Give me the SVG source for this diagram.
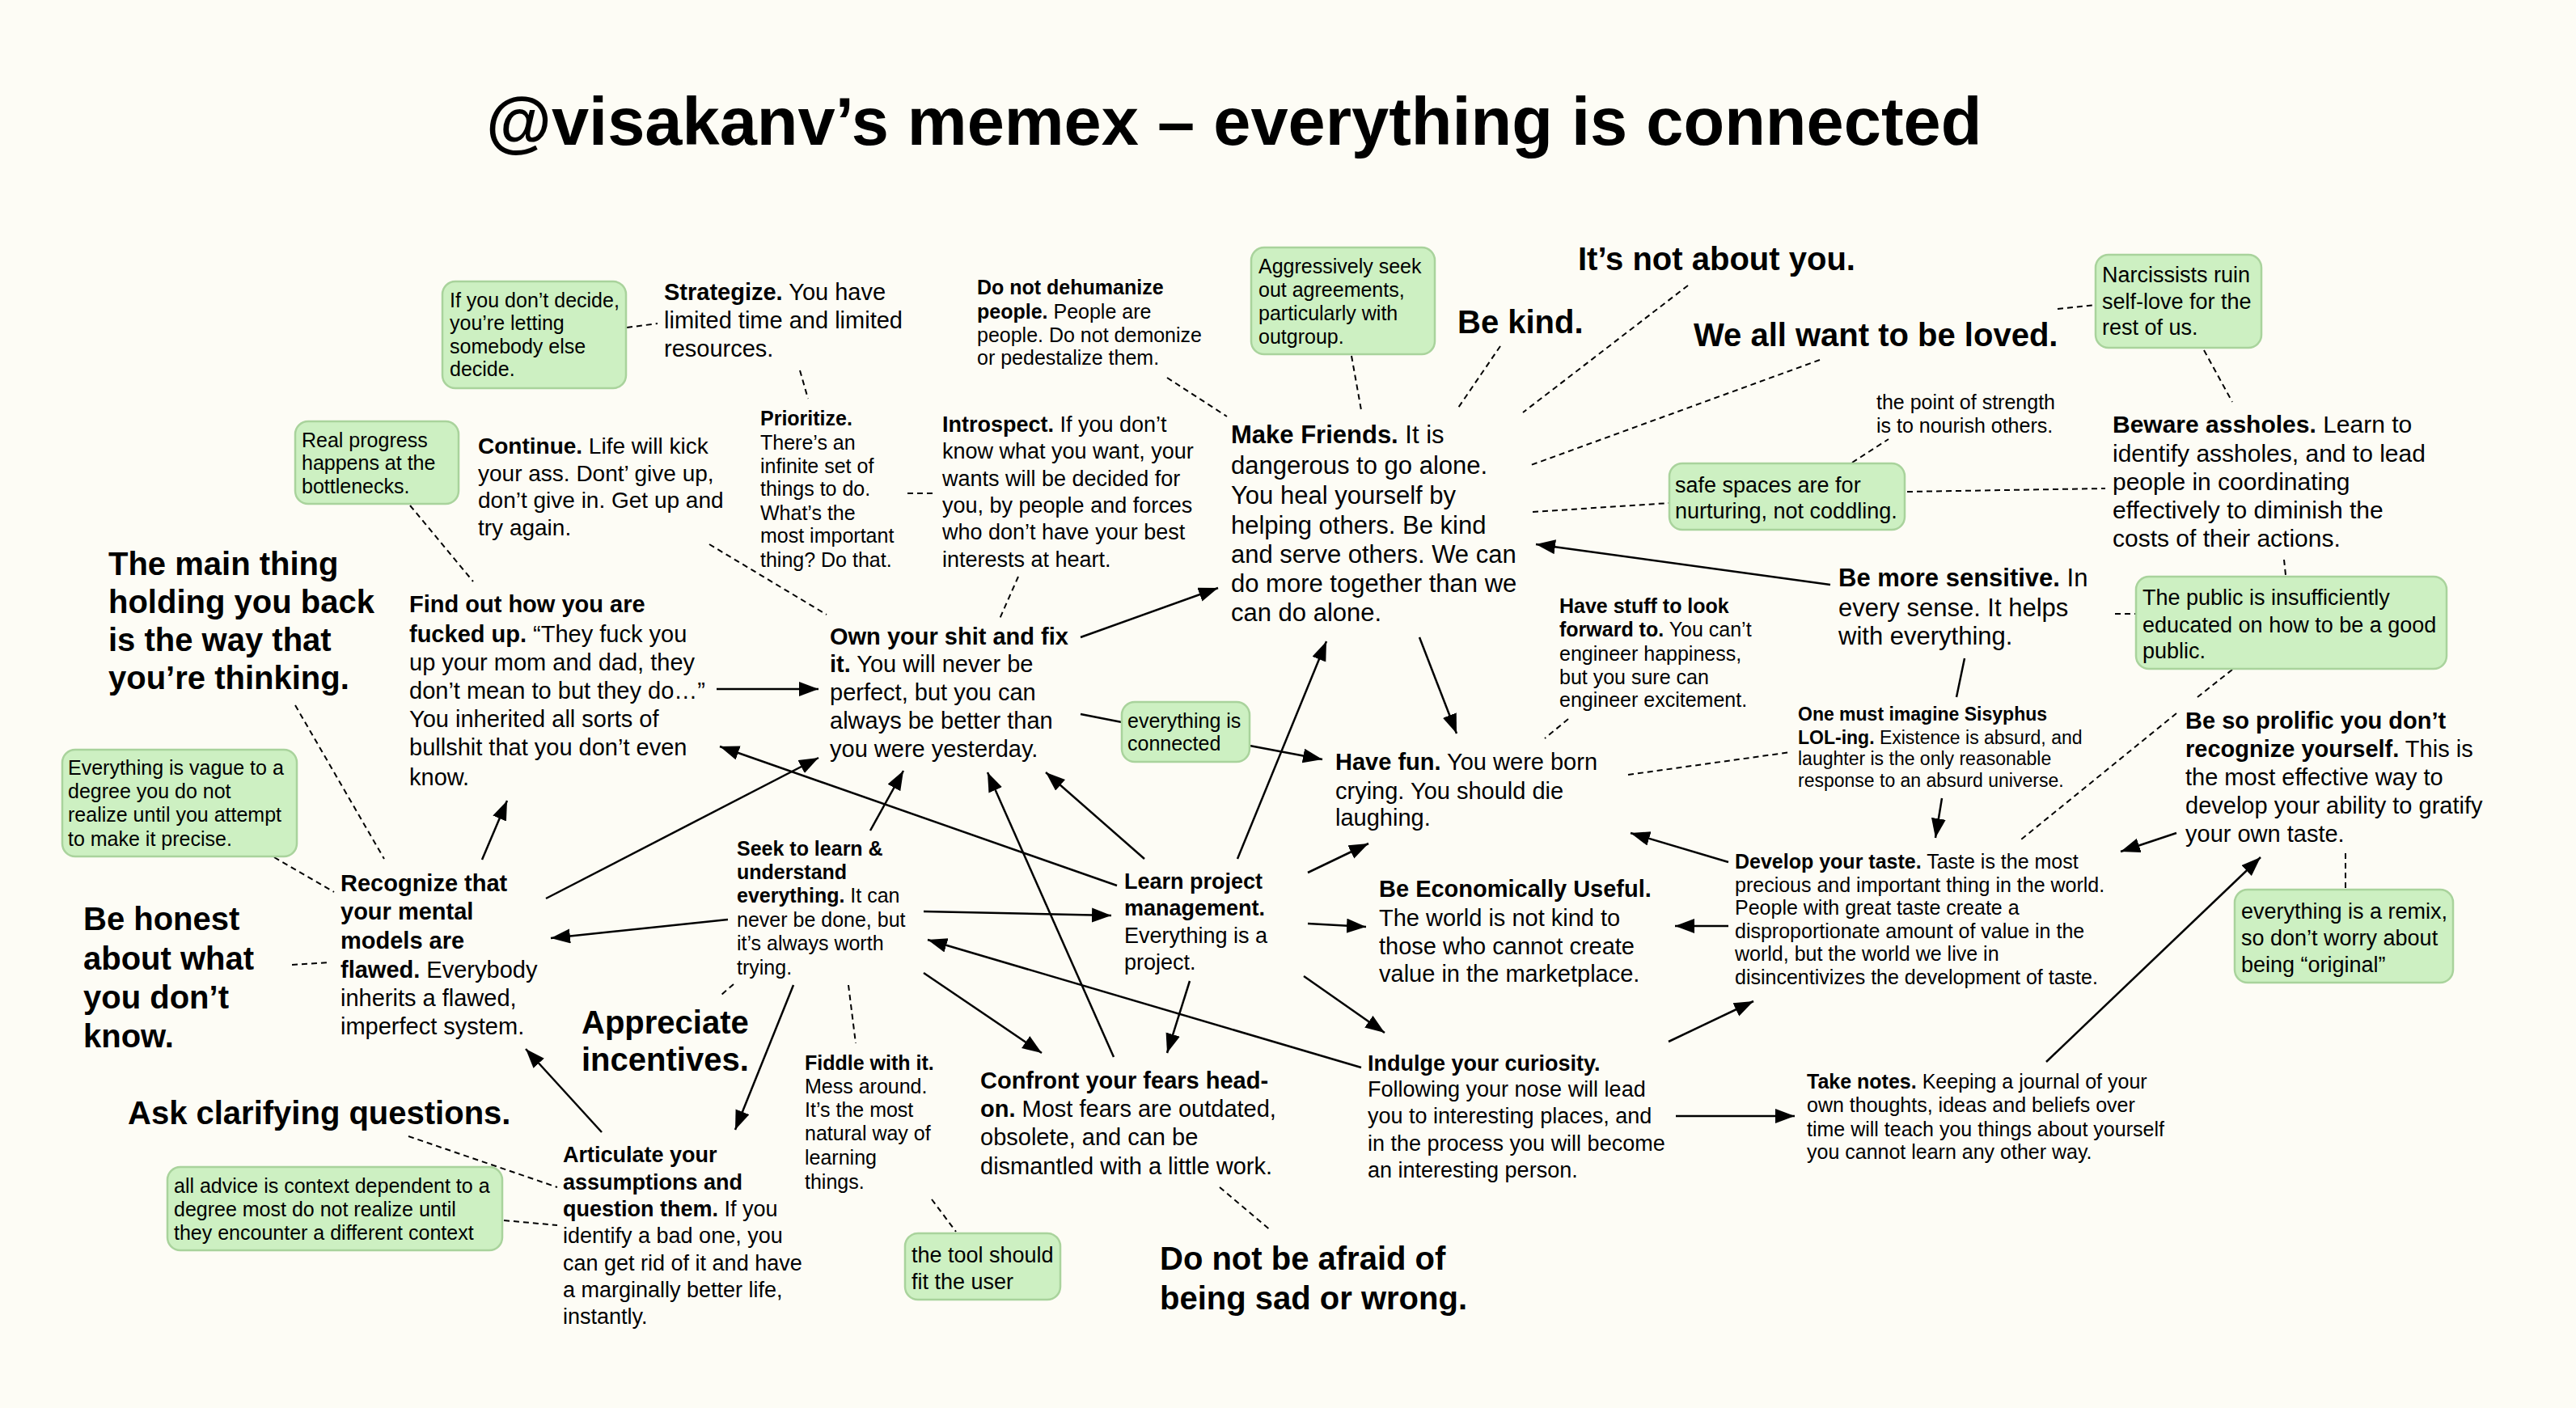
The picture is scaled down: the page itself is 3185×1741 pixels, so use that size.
<svg xmlns="http://www.w3.org/2000/svg" width="3185" height="1741" viewBox="0 0 3185 1741">
<style>
text{font-family:"Liberation Sans",Arial,Helvetica,sans-serif;fill:#000}
.b{font-weight:bold}
.h{font-weight:bold;font-size:40px}
.note{fill:#cdf0c2;stroke:#a9d39c;stroke-width:2.5}
.a{stroke:#000;stroke-width:2.5;fill:none;marker-end:url(#ah)}
.l{stroke:#000;stroke-width:2.5;fill:none}
.d{stroke:#000;stroke-width:2;fill:none;stroke-dasharray:7 5}
</style>
<defs>
<marker id="ah" markerUnits="userSpaceOnUse" markerWidth="26" markerHeight="20" refX="24" refY="9" orient="auto">
<path d="M0,0 L24,9 L0,18 z" fill="#000"/>
</marker>
</defs>
<rect width="3185" height="1741" fill="#fdfcf5"/>
<text id="title" x="601" y="179" font-size="83" font-weight="bold">@visakanv’s memex – everything is connected</text>

<g id="connectors">
<!-- dashed -->
<line class="d" x1="775" y1="405" x2="813" y2="400"/>
<line class="d" x1="989" y1="458" x2="999" y2="493"/>
<line class="d" x1="1122" y1="610" x2="1155" y2="610"/>
<line class="d" x1="877" y1="673" x2="1022" y2="760"/>
<line class="d" x1="1259" y1="713" x2="1236" y2="765"/>
<line class="d" x1="507" y1="625" x2="585" y2="719"/>
<line class="d" x1="1443" y1="467" x2="1517" y2="515"/>
<line class="d" x1="1671" y1="440" x2="1683" y2="507"/>
<line class="d" x1="1855" y1="428" x2="1801" y2="507"/>
<line class="d" x1="2087" y1="353" x2="1883" y2="510"/>
<line class="d" x1="2250" y1="445" x2="1893" y2="575"/>
<line class="d" x1="1895" y1="633" x2="2064" y2="622"/>
<line class="d" x1="2290" y1="572" x2="2335" y2="543"/>
<line class="d" x1="2358" y1="608" x2="2603" y2="604"/>
<line class="d" x1="2544" y1="382" x2="2591" y2="377"/>
<line class="d" x1="2725" y1="433" x2="2760" y2="497"/>
<line class="d" x1="2824" y1="692" x2="2826" y2="711"/>
<line class="d" x1="2615" y1="759" x2="2640" y2="759"/>
<line class="d" x1="2760" y1="828" x2="2717" y2="862"/>
<line class="d" x1="2691" y1="882" x2="2499" y2="1038"/>
<line class="d" x1="1939" y1="889" x2="1910" y2="913"/>
<line class="d" x1="2013" y1="958" x2="2214" y2="930"/>
<line class="d" x1="2900" y1="1055" x2="2900" y2="1099"/>
<line class="d" x1="365" y1="872" x2="475" y2="1062"/>
<line class="d" x1="339" y1="1060" x2="413" y2="1103"/>
<line class="d" x1="361" y1="1193" x2="408" y2="1190"/>
<line class="d" x1="907" y1="1217" x2="892" y2="1230"/>
<line class="d" x1="1049" y1="1218" x2="1058" y2="1290"/>
<line class="d" x1="505" y1="1405" x2="689" y2="1468"/>
<line class="d" x1="623" y1="1509" x2="689" y2="1515"/>
<line class="d" x1="1152" y1="1483" x2="1182" y2="1523"/>
<line class="d" x1="1508" y1="1468" x2="1572" y2="1522"/>
<!-- plain solid -->
<line class="l" x1="1336" y1="883" x2="1387" y2="893"/>
<line class="l" x1="2429" y1="814" x2="2419" y2="862"/>
<!-- arrows -->
<line class="a" x1="1336" y1="788" x2="1506" y2="727"/>
<line class="a" x1="2263" y1="723" x2="1899" y2="673"/>
<line class="a" x1="1755" y1="788" x2="1801" y2="907"/>
<line class="a" x1="1545" y1="922" x2="1635" y2="939"/>
<line class="a" x1="2137" y1="1066" x2="2016" y2="1030"/>
<line class="a" x1="2137" y1="1145" x2="2071" y2="1145"/>
<line class="a" x1="2401" y1="987" x2="2393" y2="1036"/>
<line class="a" x1="2691" y1="1030" x2="2622" y2="1053"/>
<line class="a" x1="2530" y1="1313" x2="2795" y2="1060"/>
<line class="a" x1="2072" y1="1380" x2="2219" y2="1380"/>
<line class="a" x1="2063" y1="1288" x2="2168" y2="1238"/>
<line class="a" x1="1617" y1="1079" x2="1692" y2="1043"/>
<line class="a" x1="1617" y1="1142" x2="1689" y2="1146"/>
<line class="a" x1="1612" y1="1207" x2="1712" y2="1277"/>
<line class="a" x1="1471" y1="1213" x2="1443" y2="1302"/>
<line class="a" x1="1142" y1="1203" x2="1288" y2="1302"/>
<line class="a" x1="981" y1="1218" x2="909" y2="1397"/>
<line class="a" x1="1142" y1="1127" x2="1374" y2="1132"/>
<line class="a" x1="1076" y1="1027" x2="1117" y2="953"/>
<line class="a" x1="1415" y1="1062" x2="1293" y2="955"/>
<line class="a" x1="596" y1="1063" x2="627" y2="990"/>
<line class="a" x1="886" y1="852" x2="1012" y2="852"/>
<line class="a" x1="744" y1="1400" x2="650" y2="1297"/>
<line class="a" x1="1530" y1="1062" x2="1640" y2="793"/>
<line class="a" x1="675" y1="1111" x2="1012" y2="937"/>
<line class="a" x1="1381" y1="1095" x2="890" y2="923"/>
<line class="a" x1="900" y1="1137" x2="681" y2="1160"/>
<line class="a" x1="1683" y1="1320" x2="1147" y2="1162"/>
<line class="a" x1="1377" y1="1307" x2="1221" y2="955"/>
</g>

<g id="n-decide">
<rect class="note" x="547" y="348" width="227" height="132" rx="16"/>
<text font-size="25"><tspan x="556" y="380">If you don’t decide,</tspan><tspan x="556" y="408">you’re letting</tspan><tspan x="556" y="437">somebody else</tspan><tspan x="556" y="465">decide.</tspan></text>
</g>
<g id="n-strategize">
<text font-size="29"><tspan x="821" y="371"><tspan class="b">Strategize.</tspan> You have</tspan><tspan x="821" y="406">limited time and limited</tspan><tspan x="821" y="441">resources.</tspan></text>
</g>
<g id="n-dehumanize">
<text font-size="25"><tspan x="1208" y="364" class="b">Do not dehumanize</tspan><tspan x="1208" y="394"><tspan class="b">people.</tspan> People are</tspan><tspan x="1208" y="423">people. Do not demonize</tspan><tspan x="1208" y="451">or pedestalize them.</tspan></text>
</g>
<g id="n-aggressive">
<rect class="note" x="1547" y="306" width="227" height="132" rx="16"/>
<text font-size="25"><tspan x="1556" y="338">Aggressively seek</tspan><tspan x="1556" y="367">out agreements,</tspan><tspan x="1556" y="396">particularly with</tspan><tspan x="1556" y="425">outgroup.</tspan></text>
</g>
<g id="n-bekind"><text class="h" x="1802" y="412">Be kind.</text></g>
<g id="n-notaboutyou"><text class="h" x="1951" y="334">It’s not about you.</text></g>
<g id="n-weall"><text class="h" x="2094" y="428">We all want to be loved.</text></g>
<g id="n-narc">
<rect class="note" x="2591" y="315" width="205" height="115" rx="16"/>
<text font-size="27"><tspan x="2599" y="349">Narcissists ruin</tspan><tspan x="2599" y="382">self-love for the</tspan><tspan x="2599" y="414">rest of us.</tspan></text>
</g>
<g id="n-point">
<text font-size="25"><tspan x="2320" y="506">the point of strength</tspan><tspan x="2320" y="535">is to nourish others.</tspan></text>
</g>
<g id="n-safe">
<rect class="note" x="2064" y="573" width="291" height="82" rx="16"/>
<text font-size="27"><tspan x="2071" y="609">safe spaces are for</tspan><tspan x="2071" y="641">nurturing, not coddling.</tspan></text>
</g>
<g id="n-beware">
<text font-size="30"><tspan x="2612" y="535"><tspan class="b">Beware assholes.</tspan> Learn to</tspan><tspan x="2612" y="571">identify assholes, and to lead</tspan><tspan x="2612" y="606">people in coordinating</tspan><tspan x="2612" y="641">effectively to diminish the</tspan><tspan x="2612" y="676">costs of their actions.</tspan></text>
</g>
<g id="n-public">
<rect class="note" x="2641" y="713" width="384" height="114" rx="16"/>
<text font-size="27"><tspan x="2649" y="748">The public is insufficiently</tspan><tspan x="2649" y="782">educated on how to be a good</tspan><tspan x="2649" y="814">public.</tspan></text>
</g>
<g id="n-sensitive">
<text font-size="31"><tspan x="2273" y="725"><tspan class="b">Be more sensitive.</tspan> In</tspan><tspan x="2273" y="762">every sense. It helps</tspan><tspan x="2273" y="797">with everything.</tspan></text>
</g>
<g id="n-havestuff">
<text font-size="25"><tspan x="1928" y="758" class="b">Have stuff to look</tspan><tspan x="1928" y="787"><tspan class="b">forward to.</tspan> You can’t</tspan><tspan x="1928" y="817">engineer happiness,</tspan><tspan x="1928" y="846">but you sure can</tspan><tspan x="1928" y="874">engineer excitement.</tspan></text>
</g>
<g id="n-sisyphus">
<text font-size="23"><tspan x="2223" y="891" class="b">One must imagine Sisyphus</tspan><tspan x="2223" y="920"><tspan class="b">LOL-ing.</tspan> Existence is absurd, and</tspan><tspan x="2223" y="946">laughter is the only reasonable</tspan><tspan x="2223" y="973">response to an absurd universe.</tspan></text>
</g>
<g id="n-havefun">
<text font-size="29"><tspan x="1651" y="952"><tspan class="b">Have fun.</tspan> You were born</tspan><tspan x="1651" y="988">crying. You should die</tspan><tspan x="1651" y="1021">laughing.</tspan></text>
</g>
<g id="n-develop">
<text font-size="25"><tspan x="2145" y="1074"><tspan class="b">Develop your taste.</tspan> Taste is the most</tspan><tspan x="2145" y="1103">precious and important thing in the world.</tspan><tspan x="2145" y="1131">People with great taste create a</tspan><tspan x="2145" y="1160">disproportionate amount of value in the</tspan><tspan x="2145" y="1188">world, but the world we live in</tspan><tspan x="2145" y="1217">disincentivizes the development of taste.</tspan></text>
</g>
<g id="n-prolific">
<text font-size="29"><tspan x="2702" y="901" class="b">Be so prolific you don’t</tspan><tspan x="2702" y="936"><tspan class="b">recognize yourself.</tspan> This is</tspan><tspan x="2702" y="971">the most effective way to</tspan><tspan x="2702" y="1006">develop your ability to gratify</tspan><tspan x="2702" y="1041">your own taste.</tspan></text>
</g>
<g id="n-remix">
<rect class="note" x="2763" y="1100" width="270" height="115" rx="16"/>
<text font-size="27"><tspan x="2771" y="1136">everything is a remix,</tspan><tspan x="2771" y="1169">so don’t worry about</tspan><tspan x="2771" y="1202">being “original”</tspan></text>
</g>
<g id="n-takenotes">
<text font-size="25"><tspan x="2234" y="1346"><tspan class="b">Take notes.</tspan> Keeping a journal of your</tspan><tspan x="2234" y="1375">own thoughts, ideas and beliefs over</tspan><tspan x="2234" y="1405">time will teach you things about yourself</tspan><tspan x="2234" y="1433">you cannot learn any other way.</tspan></text>
</g>
<g id="n-indulge">
<text font-size="27"><tspan x="1691" y="1324" class="b">Indulge your curiosity.</tspan><tspan x="1691" y="1356">Following your nose will lead</tspan><tspan x="1691" y="1389">you to interesting places, and</tspan><tspan x="1691" y="1423">in the process you will become</tspan><tspan x="1691" y="1456">an interesting person.</tspan></text>
</g>
<g id="n-econ">
<text font-size="29"><tspan x="1705" y="1109" class="b">Be Economically Useful.</tspan><tspan x="1705" y="1145">The world is not kind to</tspan><tspan x="1705" y="1180">those who cannot create</tspan><tspan x="1705" y="1214">value in the marketplace.</tspan></text>
</g>
<g id="n-learn">
<text font-size="27"><tspan x="1390" y="1099" class="b">Learn project</tspan><tspan x="1390" y="1132" class="b">management.</tspan><tspan x="1390" y="1166">Everything is a</tspan><tspan x="1390" y="1199">project.</tspan></text>
</g>
<g id="n-confront">
<text font-size="29"><tspan x="1212" y="1346" class="b">Confront your fears head-</tspan><tspan x="1212" y="1381"><tspan class="b">on.</tspan> Most fears are outdated,</tspan><tspan x="1212" y="1416">obsolete, and can be</tspan><tspan x="1212" y="1452">dismantled with a little work.</tspan></text>
</g>
<g id="n-afraid">
<text class="h"><tspan x="1434" y="1570">Do not be afraid of</tspan><tspan x="1434" y="1619">being sad or wrong.</tspan></text>
</g>
<g id="n-tool">
<rect class="note" x="1119" y="1525" width="192" height="82" rx="16"/>
<text font-size="27"><tspan x="1127" y="1561">the tool should</tspan><tspan x="1127" y="1594">fit the user</tspan></text>
</g>
<g id="n-fiddle">
<text font-size="25"><tspan x="995" y="1323" class="b">Fiddle with it.</tspan><tspan x="995" y="1352">Mess around.</tspan><tspan x="995" y="1381">It’s the most</tspan><tspan x="995" y="1410">natural way of</tspan><tspan x="995" y="1440">learning</tspan><tspan x="995" y="1470">things.</tspan></text>
</g>
<g id="n-seek">
<text font-size="25"><tspan x="911" y="1058" class="b">Seek to learn &amp;</tspan><tspan x="911" y="1087" class="b">understand</tspan><tspan x="911" y="1116"><tspan class="b">everything.</tspan> It can</tspan><tspan x="911" y="1146">never be done, but</tspan><tspan x="911" y="1175">it’s always worth</tspan><tspan x="911" y="1205">trying.</tspan></text>
</g>
<g id="n-appreciate">
<text class="h"><tspan x="719" y="1278">Appreciate</tspan><tspan x="719" y="1324">incentives.</tspan></text>
</g>
<g id="n-articulate">
<text font-size="27"><tspan x="696" y="1437" class="b">Articulate your</tspan><tspan x="696" y="1471" class="b">assumptions and</tspan><tspan x="696" y="1504"><tspan class="b">question them.</tspan> If you</tspan><tspan x="696" y="1537">identify a bad one, you</tspan><tspan x="696" y="1571">can get rid of it and have</tspan><tspan x="696" y="1604">a marginally better life,</tspan><tspan x="696" y="1637">instantly.</tspan></text>
</g>
<g id="n-advice">
<rect class="note" x="207" y="1443" width="414" height="103" rx="16"/>
<text font-size="25"><tspan x="215" y="1475">all advice is context dependent to a</tspan><tspan x="215" y="1504">degree most do not realize until</tspan><tspan x="215" y="1533">they encounter a different context</tspan></text>
</g>
<g id="n-ask"><text class="h" x="158" y="1390">Ask clarifying questions.</text></g>
<g id="n-honest">
<text class="h"><tspan x="103" y="1150">Be honest</tspan><tspan x="103" y="1199">about what</tspan><tspan x="103" y="1247">you don’t</tspan><tspan x="103" y="1295">know.</tspan></text>
</g>
<g id="n-recognize">
<text font-size="29"><tspan x="421" y="1102" class="b">Recognize that</tspan><tspan x="421" y="1137" class="b">your mental</tspan><tspan x="421" y="1173" class="b">models are</tspan><tspan x="421" y="1209"><tspan class="b">flawed.</tspan> Everybody</tspan><tspan x="421" y="1244">inherits a flawed,</tspan><tspan x="421" y="1279">imperfect system.</tspan></text>
</g>
<g id="n-vague">
<rect class="note" x="77" y="927" width="290" height="132" rx="16"/>
<text font-size="25"><tspan x="84" y="958">Everything is vague to a</tspan><tspan x="84" y="987">degree you do not</tspan><tspan x="84" y="1016">realize until you attempt</tspan><tspan x="84" y="1046">to make it precise.</tspan></text>
</g>
<g id="n-mainthing">
<text class="h"><tspan x="134" y="711">The main thing</tspan><tspan x="134" y="758">holding you back</tspan><tspan x="134" y="805">is the way that</tspan><tspan x="134" y="852">you’re thinking.</tspan></text>
</g>
<g id="n-realprogress">
<rect class="note" x="365" y="521" width="202" height="102" rx="16"/>
<text font-size="25"><tspan x="373" y="553">Real progress</tspan><tspan x="373" y="581">happens at the</tspan><tspan x="373" y="610">bottlenecks.</tspan></text>
</g>
<g id="n-continue">
<text font-size="28"><tspan x="591" y="561"><tspan class="b">Continue.</tspan> Life will kick</tspan><tspan x="591" y="595">your ass. Dont’ give up,</tspan><tspan x="591" y="628">don’t give in. Get up and</tspan><tspan x="591" y="662">try again.</tspan></text>
</g>
<g id="n-findout">
<text font-size="29"><tspan x="506" y="757" class="b">Find out how you are</tspan><tspan x="506" y="794"><tspan class="b">fucked up.</tspan> “They fuck you</tspan><tspan x="506" y="829">up your mom and dad, they</tspan><tspan x="506" y="864">don’t mean to but they do…”</tspan><tspan x="506" y="899">You inherited all sorts of</tspan><tspan x="506" y="934">bullshit that you don’t even</tspan><tspan x="506" y="971">know.</tspan></text>
</g>
<g id="n-prioritize">
<text font-size="25"><tspan x="940" y="526" class="b">Prioritize.</tspan><tspan x="940" y="556">There’s an</tspan><tspan x="940" y="585">infinite set of</tspan><tspan x="940" y="613">things to do.</tspan><tspan x="940" y="643">What’s the</tspan><tspan x="940" y="671">most important</tspan><tspan x="940" y="701">thing? Do that.</tspan></text>
</g>
<g id="n-introspect">
<text font-size="27"><tspan x="1165" y="534"><tspan class="b">Introspect.</tspan> If you don’t</tspan><tspan x="1165" y="567">know what you want, your</tspan><tspan x="1165" y="601">wants will be decided for</tspan><tspan x="1165" y="634">you, by people and forces</tspan><tspan x="1165" y="667">who don’t have your best</tspan><tspan x="1165" y="701">interests at heart.</tspan></text>
</g>
<g id="n-own">
<text font-size="29"><tspan x="1026" y="797" class="b">Own your shit and fix</tspan><tspan x="1026" y="831"><tspan class="b">it.</tspan> You will never be</tspan><tspan x="1026" y="866">perfect, but you can</tspan><tspan x="1026" y="901">always be better than</tspan><tspan x="1026" y="936">you were yesterday.</tspan></text>
</g>
<g id="n-makefriends">
<text font-size="31"><tspan x="1522" y="548"><tspan class="b">Make Friends.</tspan> It is</tspan><tspan x="1522" y="586">dangerous to go alone.</tspan><tspan x="1522" y="623">You heal yourself by</tspan><tspan x="1522" y="660">helping others. Be kind</tspan><tspan x="1522" y="696">and serve others. We can</tspan><tspan x="1522" y="732">do more together than we</tspan><tspan x="1522" y="768">can do alone.</tspan></text>
</g>
<g id="n-connected">
<rect class="note" x="1387" y="868" width="158" height="74" rx="16"/>
<text font-size="25"><tspan x="1394" y="900">everything is</tspan><tspan x="1394" y="928">connected</tspan></text>
</g>
</svg>
